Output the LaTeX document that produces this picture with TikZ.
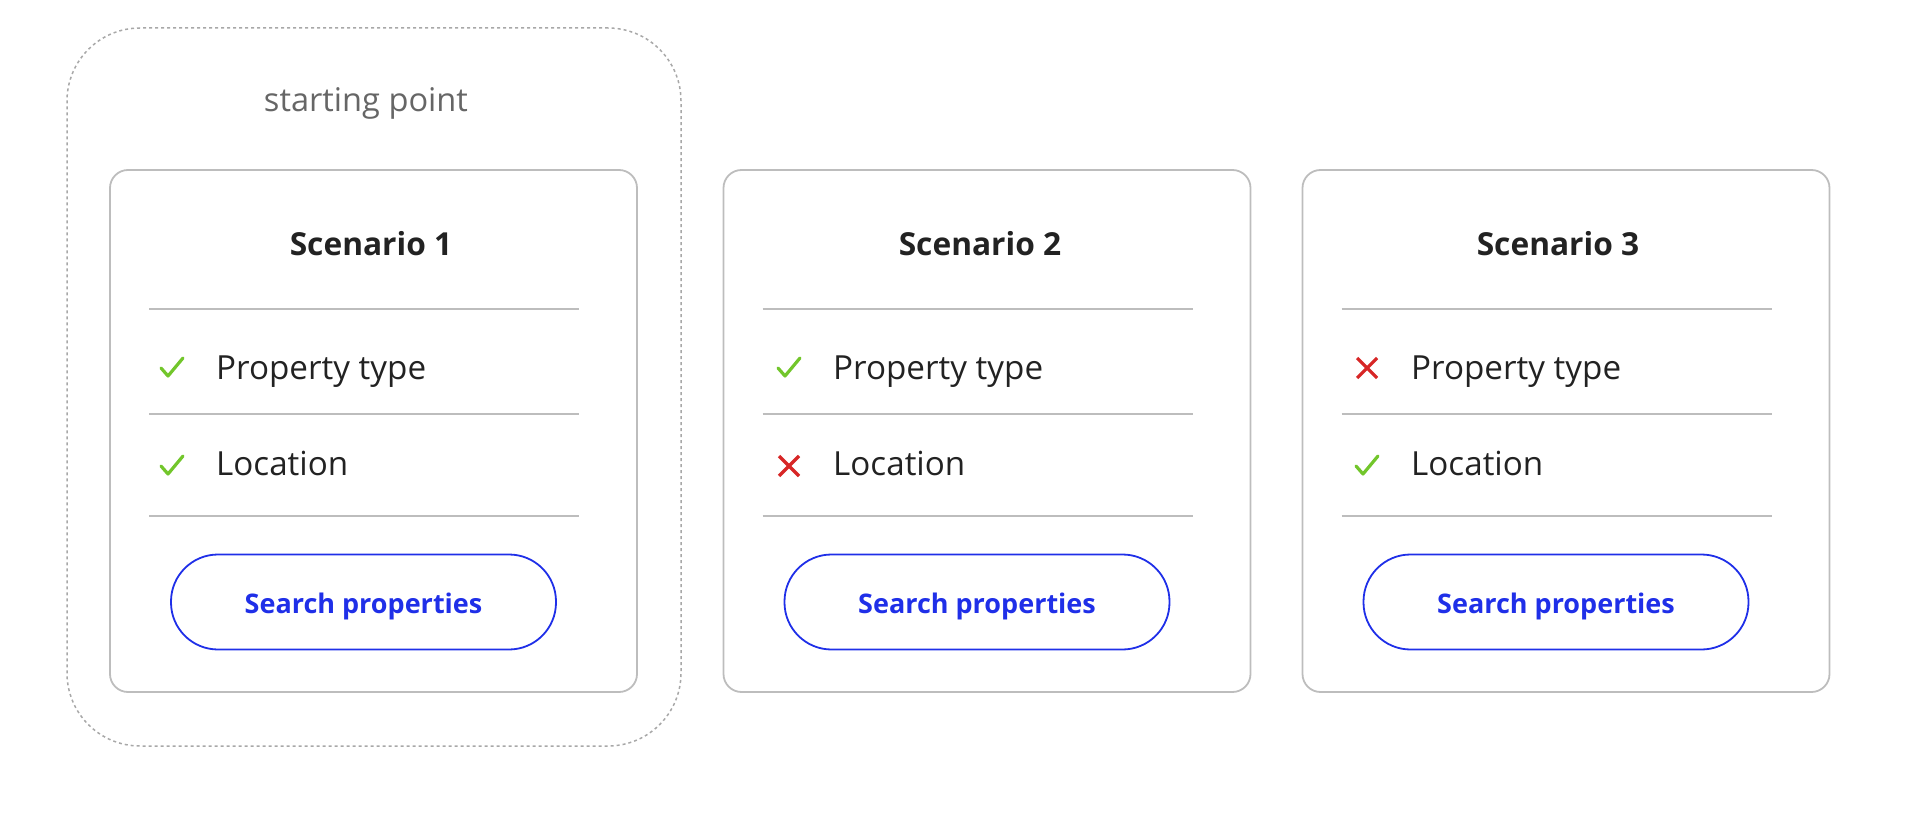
\documentclass[tikz,border=0pt]{standalone}
\usepackage{fontspec}
\setmainfont{Open Sans}
\definecolor{cardgray}{HTML}{BDBDBD}
\definecolor{dashgray}{HTML}{A8A8A8}
\definecolor{txtdark}{HTML}{222222}
\definecolor{txtgray}{HTML}{666666}
\definecolor{okgreen}{HTML}{72C62B}
\definecolor{nored}{HTML}{D72626}
\definecolor{btnblue}{HTML}{1F2FE8}
\usetikzlibrary{calc}
\newcommand\mycheck[1]{\draw[okgreen,line width=3.2pt,line cap=round,line join=round] ($(#1)+(-11,0)$) -- ($(#1)+(-4,8)$) -- ($(#1)+(11,-10)$);}
\newcommand\mycross[1]{\draw[nored,line width=3.2pt] ($(#1)+(-10,-10)$) -- ($(#1)+(10,10)$) ($(#1)+(-10,10)$) -- ($(#1)+(10,-10)$);}
\tikzset{
  groupbox/.style={draw=dashgray,line width=1.5pt,dash pattern=on 3pt off 3pt,rounded corners=73pt,minimum width=614pt,minimum height=718pt,inner sep=0pt},
  cardbox/.style={draw=cardgray,line width=1.8pt,rounded corners=18pt,minimum width=527pt,minimum height=522pt,inner sep=0pt},
  divider/.style={draw=cardgray,line width=1.8pt},
  titletext/.style={font=\fontsize{31.7}{36}\selectfont\bfseries,text=txtdark,inner sep=0pt,anchor=base},
  itemtext/.style={font=\fontsize{33.2}{38}\selectfont,text=txtdark,inner sep=0pt,anchor=base west},
  grouptext/.style={font=\fontsize{32.6}{36}\selectfont,text=txtgray,inner sep=0pt,anchor=base},
  btnbox/.style={draw=btnblue,line width=1.8pt,rounded corners=47pt,minimum width=385pt,minimum height=95pt,inner sep=0pt,
     text height=22pt,text depth=0pt,font=\fontsize{27}{32}\selectfont\bfseries,text=btnblue},
}
\begin{document}
\begin{tikzpicture}[x=1pt,y=-1pt]
\useasboundingbox (0,0) rectangle (1920,818);
\node[groupbox] (group) at (374,387) {};
\node[grouptext] (grouplabel) at (366,112) {starting point};
\foreach \i/\cx/\to/\xo in {1/373.5/-2.5/0,2/987/-7/3.5,3/1566/-8/2.5}{
  \node[cardbox] (card\i) at (\cx,431) {};
  \node[titletext] (title\i) at (\cx+\to,256) {Scenario \i};
  \draw[divider] (\cx-224.5,309) -- (\cx+205.5,309);
  \draw[divider] (\cx-224.5,414) -- (\cx+205.5,414);
  \draw[divider] (\cx-224.5,516) -- (\cx+205.5,516);
  \node[itemtext] (ptype\i) at (\cx-157.5+\xo,379) {Property type};
  \node[itemtext] (loc\i) at (\cx-157.5+\xo,475) {Location};
  \coordinate (ia\i) at (\cx-201.5+\xo,368);
  \coordinate (ib\i) at (\cx-201.5+\xo,466);
  \node[btnbox] (btn\i) at (\cx-10,602) {Search properties};
}
\mycheck{ia1}
\mycheck{ib1}
\mycheck{ia2}
\mycross{ib2}
\mycross{ia3}
\mycheck{ib3}
\end{tikzpicture}
\end{document}
